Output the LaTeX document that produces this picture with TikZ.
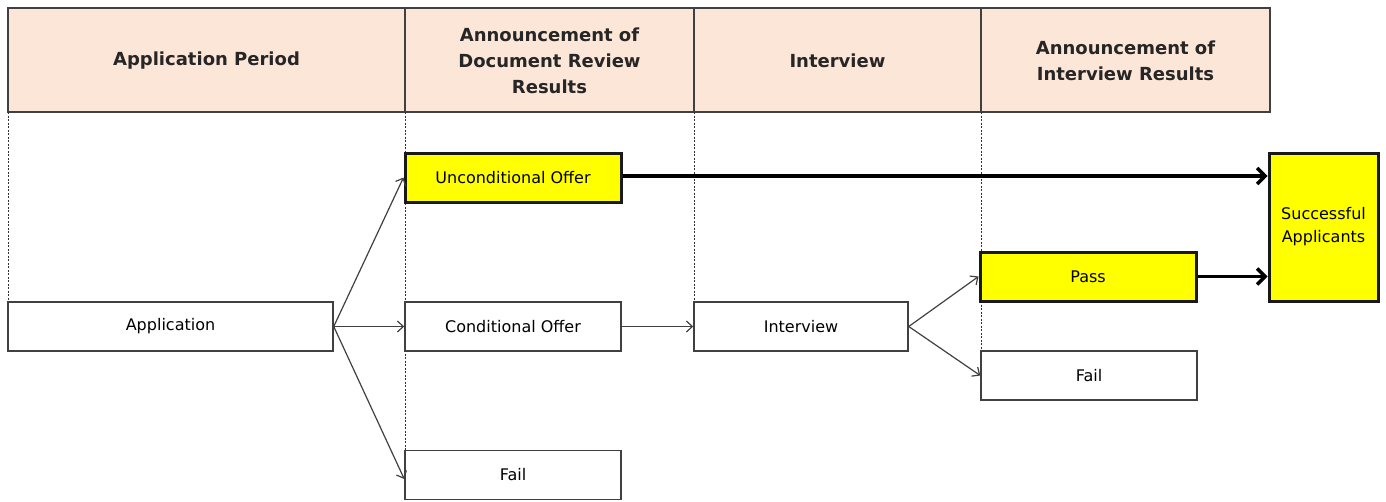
\documentclass[tikz,border=0pt]{standalone}
\usepackage{fontspec}
\setmainfont{DejaVu Sans}
\usetikzlibrary{arrows.meta}
\definecolor{hdr}{HTML}{FCE6D8}
\definecolor{edge}{HTML}{404040}
\definecolor{hl}{HTML}{FFFF00}
\tikzset{
  hdrcell/.style={draw=edge,line width=1.5pt,fill=hdr},
  hdrtext/.style={align=center,font=\fontsize{18}{26}\selectfont\bfseries,text=black!85},
  plainbox/.style={draw=edge,line width=1.5pt,fill=white,minimum height=49pt,font=\fontsize{16}{23}\selectfont,inner sep=0pt},
  yelbox/.style={draw=black!90,line width=3pt,fill=hl,minimum height=49pt,font=\fontsize{16}{23}\selectfont,inner sep=0pt},
  guide/.style={draw=black!80,line width=1pt,dash pattern=on 2pt off 1.5pt},
  thinarr/.style={draw=edge,line width=1.2pt,-{Straight Barb[length=6pt,width=11pt]}},
  thickarr/.style={draw=black,line width=3.5pt,-{Straight Barb[length=8pt,width=16pt]}}
}
\begin{document}
\begin{tikzpicture}[x=1pt,y=-1pt]
\useasboundingbox (0,0) rectangle (1386,501);
% header cells
\draw[hdrcell] (8,8) rectangle (405,112);
\draw[hdrcell] (405,8) rectangle (694,112);
\draw[hdrcell] (694,8) rectangle (981,112);
\draw[hdrcell] (981,8) rectangle (1270,112);
\node[hdrtext] (h1) at (206.5,61) {Application Period};
\node[hdrtext] (h2) at (549.5,61) {Announcement of\\Document Review\\Results};
\node[hdrtext] (h3) at (837.5,61) {Interview};
\node[hdrtext] (h4) at (1125.5,61) {Announcement of\\Interview Results};
% guides
\draw[guide] (8,112) -- (8,302);
\draw[guide] (405,112) -- (405,450);
\draw[guide] (694,112) -- (694,302);
\draw[guide] (981,112) -- (981,351);
% boxes
\node[plainbox,minimum width=325pt] (app) at (170.5,326.5) {Application};
\node[yelbox,minimum width=216pt] (unc) at (513,177.5) {Unconditional Offer};
\node[plainbox,minimum width=216pt] (cond) at (513,326.5) {Conditional Offer};
\node[plainbox,minimum width=216pt] (fail1) at (513,475) {Fail};
\node[plainbox,minimum width=214pt] (int) at (801,326.5) {Interview};
\node[yelbox,minimum width=216pt] (pass) at (1088,276.5) {Pass};
\node[plainbox,minimum width=216pt] (fail2) at (1089,375.5) {Fail};
\node[yelbox,minimum width=109pt,minimum height=148pt,align=center,font=\fontsize{16}{23}\selectfont] (succ) at (1323.5,227) {Successful\\Applicants};
% connectors
\draw[thinarr] (app.east) -- (unc.west);
\draw[thinarr] (app.east) -- (cond.west);
\draw[thinarr] (app.east) -- ([yshift=-4pt]fail1.west);
\draw[thinarr] (cond.east) -- (int.west);
\draw[thinarr] (int.east) -- (pass.west);
\draw[thinarr] (int.east) -- (fail2.west);
\draw[thickarr] ([yshift=1.5pt]unc.east) -- ([yshift=1.5pt]unc.east -| succ.west);
\draw[thickarr] (pass.east) -- (pass.east -| succ.west);
\end{tikzpicture}
\end{document}
